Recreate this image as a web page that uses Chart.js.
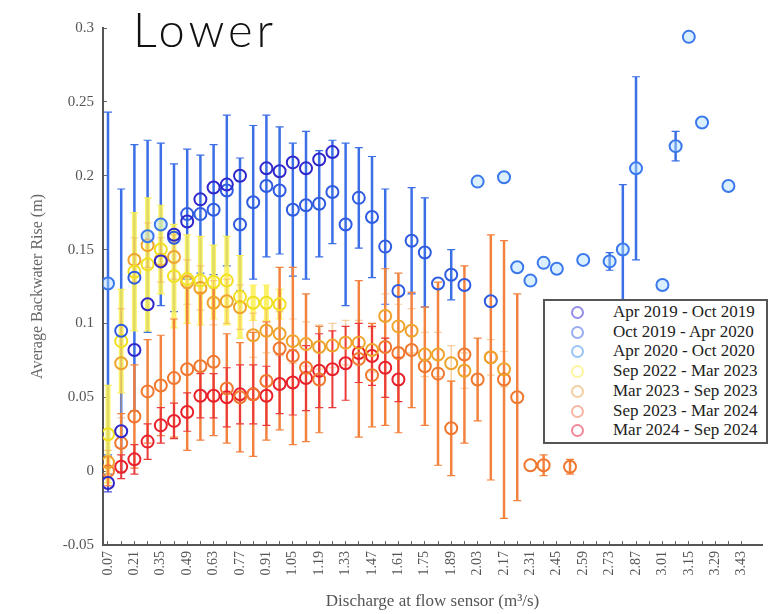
<!DOCTYPE html>
<html>
<head>
<meta charset="utf-8">
<script src="https://cdn.jsdelivr.net/npm/chart.js@4/dist/chart.umd.min.js"></script>
<style>
  body { margin: 0; background: #fff; }
  #wrap { position: relative; width: 774px; height: 614px; }
  #title {
    position: absolute; left: 133px; top: 1px;
    font-family: Lato, 'Noto Sans', sans-serif; font-weight: 300;
    font-size: 47px; letter-spacing: 4px; color: #111;
  }
  #legend {
    position: absolute; left: 543px; top: 299px; width: 221px; height: 141px;
    border: 2px solid #555; background: #fff;
    font-family: 'Liberation Serif', 'Times New Roman', serif; font-size: 17px; color: #222;
  }
  .row { position: absolute; left: 0; height: 20px; line-height: 20px; white-space: nowrap; }
  .row i { position: absolute; left: 26px; top: 4px; width: 9px; height: 9px; border: 2px solid; border-radius: 50%; }
  .row span { position: absolute; left: 68px; }
</style>
</head>
<body>
<div id="wrap">
  <canvas id="chart" width="774" height="614"></canvas>
  <div id="title">Lower</div>
  <div id="legend"></div>
</div>
<script>
// Discharge categories (m3/s), one every 0.07
const xValues = [
  0.07, 0.14, 0.21, 0.28, 0.35, 0.42, 0.49, 0.56, 0.63, 0.70,
  0.77, 0.84, 0.91, 0.98, 1.05, 1.12, 1.19, 1.26, 1.33, 1.40,
  1.47, 1.54, 1.61, 1.68, 1.75, 1.82, 1.89, 1.96, 2.03, 2.10,
  2.17, 2.24, 2.31, 2.38, 2.45, 2.52, 2.59, 2.66, 2.73, 2.80,
  2.87, 2.94, 3.01, 3.08, 3.15, 3.22, 3.29, 3.36, 3.43
];
const xTickLabels = ['0.07', '0.21', '0.35', '0.49', '0.63', '0.77', '0.91', '1.05', '1.19', '1.33', '1.47', '1.61', '1.75',
  '1.89', '2.03', '2.17', '2.31', '2.45', '2.59', '2.73', '2.87', '3.01', '3.15', '3.29', '3.43'];
const seriesLabels = ['Apr 2019 - Oct 2019', 'Oct 2019 - Apr 2020', 'Apr 2020 - Oct 2020', 'Sep 2022 - Mar 2023',
  'Mar 2023 - Sep 2023', 'Sep 2023 - Mar 2024', 'Mar 2024 - Sep 2024'];

// mean backwater rise (m) per category, null = no data
const apr19 = [-0.008, 0.027, 0.082, 0.113, 0.142, 0.160, 0.169, 0.184, 0.192, 0.194,
  0.200, null, 0.205, 0.203, 0.209, 0.205, 0.211, 0.216];
const oct19 = [null, 0.095, 0.131, null, null, 0.158, 0.174, 0.174, 0.177, 0.190,
  0.167, 0.182, 0.193, 0.190, 0.177, 0.180, 0.181, 0.189, 0.167, 0.185,
  0.172, 0.152, 0.122, 0.156, 0.148, 0.127, 0.133, 0.126, null, 0.115];
const apr20 = [0.127, null, null, 0.159, 0.167, null, null, null, null, null,
  null, null, null, null, null, null, null, null, null, null,
  null, null, null, null, null, null, null, null, 0.196, null,
  0.199, 0.138, 0.129, 0.141, 0.137, null, 0.143, null, 0.142, 0.150,
  0.205, null, 0.126, 0.220, 0.294, 0.236, null, 0.193];
const sep22 = [0.025, 0.088, 0.135, 0.140, 0.150, 0.132, 0.130, 0.129, 0.128, 0.129,
  0.118, 0.114, 0.114, 0.113];
const mar23 = [0.006, 0.073, 0.143, 0.153, 0.143, 0.145, 0.128, 0.124, 0.114, 0.115,
  0.111, 0.092, 0.095, 0.093, 0.088, 0.086, 0.084, 0.085, 0.087, 0.087,
  0.082, 0.105, 0.098, 0.095, 0.079, 0.079, 0.073, 0.068, null, 0.077,
  0.069];
const sep23 = [0.000, 0.019, 0.037, 0.054, 0.058, 0.063, 0.069, 0.071, 0.074, 0.056,
  0.050, 0.052, 0.061, 0.083, 0.078, 0.070, 0.062, null, null, 0.076,
  0.065, 0.084, 0.080, 0.082, 0.071, 0.066, 0.029, 0.079, 0.062, 0.077,
  0.062, 0.050, 0.004, 0.004, null, 0.003];
const mar24 = [null, 0.003, 0.008, 0.020, 0.031, 0.034, 0.040, 0.051, 0.051, 0.050,
  0.052, 0.052, 0.051, 0.059, 0.060, 0.063, 0.068, 0.069, 0.073, 0.080,
  0.078, 0.070, 0.062];

// error bar half-widths (m), missing = none
const apr19Err = [0.006];
const oct19Err = [0, 0.096, 0.090, 0, 0, 0.050, 0.044, 0.040, 0.044, 0.051,
  0.045, 0.052, 0.048, 0.043, 0.045, 0.050, 0.036, 0.035, 0.055, 0.034,
  0.041, 0.039, 0, 0.036, 0.037, 0, 0.017];
const apr20Err = [0.116, 0, 0, 0.065, 0.055, 0, 0, 0, 0, 0,
  0, 0, 0, 0, 0, 0, 0, 0, 0, 0,
  0, 0, 0, 0, 0, 0, 0, 0, 0, 0,
  0, 0, 0, 0, 0, 0, 0, 0, 0.006, 0.044,
  0.062, 0, 0, 0.010];
const sep22Err = [0.033, 0.035, 0.040, 0.045, 0.030, 0.035, 0.030, 0.030, 0.025, 0.030,
  0.028, 0.012, 0.012, 0.010];
const mar23Err = [0.008, 0.037, 0.015, 0.015, 0.015, 0.015, 0.015, 0.015, 0.015, 0.015,
  0.015, 0.015, 0.015, 0.015, 0.015, 0.015, 0.015, 0.015, 0.015, 0.015,
  0.015, 0.015, 0.015, 0.015, 0.015, 0.015, 0.012, 0.012, 0, 0.012,
  0.012];
const sep23Err = [0.010, 0.020, 0.035, 0.035, 0.034, 0.040, 0.055, 0.050, 0.050, 0.037,
  0.037, 0.042, 0.040, 0.055, 0.060, 0.050, 0.036, 0, 0, 0.053,
  0.035, 0.053, 0.054, 0.039, 0.040, 0.062, 0.032, 0.060, 0.028, 0.083,
  0.094, 0.070, 0, 0.007, 0, 0.005];
const mar24Err = [0, 0.008, 0.010, 0.012, 0.012, 0.012, 0.013, 0.015, 0.015, 0.020,
  0.020, 0.020, 0.020, 0.020, 0.022, 0.022, 0.025, 0.026, 0.025, 0.020,
  0.020, 0.020, 0.015];

function points(means, errs) {
  const out = [];
  means.forEach((v, i) => {
    if (v !== null && v !== undefined) out.push({ x: xValues[i], y: v, err: errs[i] || 0 });
  });
  return out;
}

function series(idx, means, errs, color, fill, errColor, errWidth, legendColor) {
  return {
    label: seriesLabels[idx],
    data: points(means, errs),
    borderColor: color,
    backgroundColor: fill,
    pointRadius: 6,
    pointBorderWidth: 2,
    pointHoverRadius: 6,
    showLine: false,
    errColor: errColor,
    errWidth: errWidth,
    legendColor: legendColor
  };
}

const datasets = [
  series(0, apr19, apr19Err, '#2f27cc', 'rgba(0,0,0,0)', '#4a55d8', 2, 'rgba(60,50,210,0.55)'),
  series(1, oct19, oct19Err, '#2f5be0', 'rgba(0,0,0,0)', '#3b6fe6', 2.5, 'rgba(50,90,225,0.5)'),
  series(2, apr20, apr20Err, '#3a78ec', 'rgba(175,222,255,0.45)', '#3b6fe6', 2.5, 'rgba(50,140,240,0.5)'),
  series(3, sep22, sep22Err, '#f0e020', 'rgba(0,0,0,0)', 'rgba(252,240,80,0.85)', 5, 'rgba(250,230,40,0.45)'),
  series(4, mar23, mar23Err, '#eea42c', 'rgba(0,0,0,0)', 'rgba(240,170,90,0.55)', 1.5, 'rgba(230,160,70,0.5)'),
  series(5, sep23, sep23Err, '#f0772e', 'rgba(0,0,0,0)', '#f3823e', 2.5, 'rgba(240,110,70,0.5)'),
  series(6, mar24, mar24Err, '#e8202a', 'rgba(0,0,0,0)', '#ec3a3a', 2, 'rgba(230,40,70,0.55)')
];

// vertical error bars with caps, drawn under the markers
const errorBars = {
  id: 'errorBars',
  beforeDatasetsDraw(chart) {
    const ctx = chart.ctx;
    const y = chart.scales.y;
    chart.data.datasets.forEach((ds, i) => {
      const meta = chart.getDatasetMeta(i);
      ctx.save();
      ctx.strokeStyle = ds.errColor;
      meta.data.forEach((pt, j) => {
        const d = ds.data[j];
        if (!d.err) return;
        const top = y.getPixelForValue(d.y + d.err);
        const bot = y.getPixelForValue(d.y - d.err);
        ctx.lineWidth = ds.errWidth;
        ctx.beginPath();
        ctx.moveTo(pt.x, top);
        ctx.lineTo(pt.x, bot);
        ctx.stroke();
        ctx.lineWidth = 1.2;
        ctx.beginPath();
        ctx.moveTo(pt.x - 4, top); ctx.lineTo(pt.x + 4, top);
        ctx.moveTo(pt.x - 4, bot); ctx.lineTo(pt.x + 4, bot);
        ctx.stroke();
      });
      ctx.restore();
    });
  }
};

Chart.defaults.font.family = "'Liberation Serif', 'Times New Roman', serif";
Chart.defaults.color = '#555';

const chart = new Chart(document.getElementById('chart'), {
  type: 'scatter',
  data: { datasets: datasets },
  options: {
    responsive: false,
    animation: false,
    devicePixelRatio: 1,
    layout: { padding: { top: 28, right: 12, left: 0, bottom: 0 } },
    plugins: { legend: { display: false }, tooltip: { enabled: false } },
    scales: {
      x: {
        type: 'linear',
        min: 0.0435,
        max: 3.538,
        afterFit: s => { s.height = 69; },
        afterBuildTicks: s => { s.ticks = xValues.map(v => ({ value: v })); },
        border: { display: true, color: '#555', width: 2 },
        grid: { drawOnChartArea: false, drawTicks: true, tickLength: -4, color: '#666' },
        ticks: {
          autoSkip: false,
          minRotation: 90,
          maxRotation: 90,
          padding: 10,
          font: { size: 14 },
          callback: v => xTickLabels.find(l => Math.abs(parseFloat(l) - v) < 1e-6) || ''
        },
        title: {
          display: true,
          text: 'Discharge at flow sensor (m³/s)',
          font: { size: 17 },
          padding: { top: 0, bottom: 2 }
        }
      },
      y: {
        min: -0.05,
        max: 0.3,
        afterFit: s => { s.width = 103; },
        border: { display: true, color: '#555', width: 2 },
        grid: { drawOnChartArea: false, drawTicks: true, tickLength: -4, color: '#666' },
        ticks: {
          stepSize: 0.05,
          padding: 13,
          font: { size: 15 },
          callback: v => String(parseFloat(v.toFixed(2)))
        },
        title: {
          display: true,
          text: 'Average Backwater Rise (m)',
          font: { size: 16 },
          color: '#666',
          padding: { top: 28, bottom: 0 }
        }
      }
    }
  },
  plugins: [errorBars]
});

// legend box drawn as html from the datasets
const legend = document.getElementById('legend');
chart.data.datasets.forEach((ds, i) => {
  const row = document.createElement('div');
  row.className = 'row';
  row.style.top = (1 + i * 19.7) + 'px';
  const mark = document.createElement('i');
  mark.style.borderColor = ds.legendColor;
  const txt = document.createElement('span');
  txt.textContent = ds.label;
  row.appendChild(mark);
  row.appendChild(txt);
  legend.appendChild(row);
});
</script>
</body>
</html>
